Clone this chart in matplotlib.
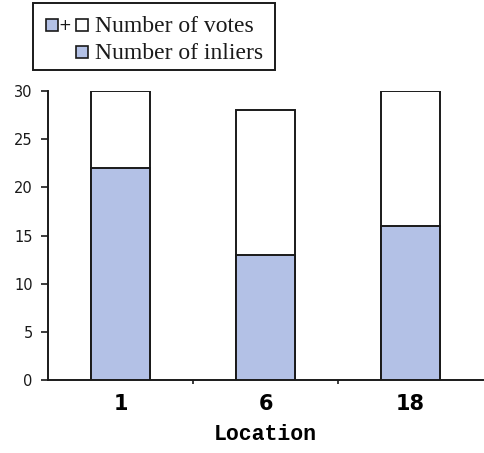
import matplotlib
matplotlib.use("Agg")
import matplotlib.pyplot as plt
from matplotlib.patches import Rectangle

# Data
locations = ["1", "6", "18"]
votes = [30, 28, 30]
inliers = [22, 13, 16]
y_ticks = [0, 5, 10, 15, 20, 25, 30]

W, H = 484, 453
fig = plt.figure(figsize=(W / 100, H / 100), dpi=100)

def fx(px):
    return px / W

def fy(py):
    return 1 - py / H

ax = fig.add_axes([fx(48), fy(380), fx(483) - fx(48), fy(91) - fy(380)])

blue = "#B3C1E6"
edge = "#1a1a1a"
x = list(range(len(locations)))
bw = 0.41

ax.bar(x, votes, width=bw, color="white", edgecolor=edge, linewidth=1.4, zorder=2)
ax.bar(x, inliers, width=bw, color=blue, edgecolor=edge, linewidth=1.4, zorder=3)

ax.set_xlim(-0.5, len(locations) - 0.5)
ax.set_ylim(0, 30)

for s in ["top", "right"]:
    ax.spines[s].set_visible(False)
for s in ["left", "bottom"]:
    ax.spines[s].set_linewidth(1.4)
    ax.spines[s].set_color(edge)

ax.set_yticks(y_ticks)
ax.set_yticklabels([str(v) for v in y_ticks], fontsize=10.5, family="DejaVu Sans")
ax.tick_params(axis="y", direction="out", length=5, width=1.2, pad=6, colors=edge)

ax.set_xticks(x)
ax.set_xticklabels(locations, fontsize=15, fontweight="bold", family="DejaVu Sans")
ax.tick_params(axis="x", which="major", length=0, pad=10)
ax.set_xticks([i + 0.5 for i in x[:-1]], minor=True)
ax.tick_params(axis="x", which="minor", direction="out", length=3, width=1.2, colors=edge)

ax.set_xlabel("Location", fontsize=15.5, fontweight="bold", family="Liberation Mono",
              labelpad=7)

# Legend box drawn in figure pixels
fig.patches.append(Rectangle((fx(33), fy(70)), fx(275) - fx(33), fy(3) - fy(70),
                             transform=fig.transFigure, facecolor="white",
                             edgecolor=edge, linewidth=1.4))

def square(px, py, color):
    fig.patches.append(Rectangle((fx(px), fy(py + 12)), fx(12), 12 / H,
                                 transform=fig.transFigure, facecolor=color,
                                 edgecolor=edge, linewidth=1.2))

square(46, 19, blue)
fig.text(fx(64.5), fy(25), "+", fontsize=11, family="DejaVu Sans",
         ha="center", va="center", color=edge)
square(76, 19, "white")
fig.text(fx(95), fy(32), "Number of votes", fontsize=17, family="Liberation Serif",
         ha="left", va="baseline", color=edge)

square(76, 46, blue)
fig.text(fx(95), fy(59), "Number of inliers", fontsize=17, family="Liberation Serif",
         ha="left", va="baseline", color=edge)

fig.savefig("out.png", dpi=100)
